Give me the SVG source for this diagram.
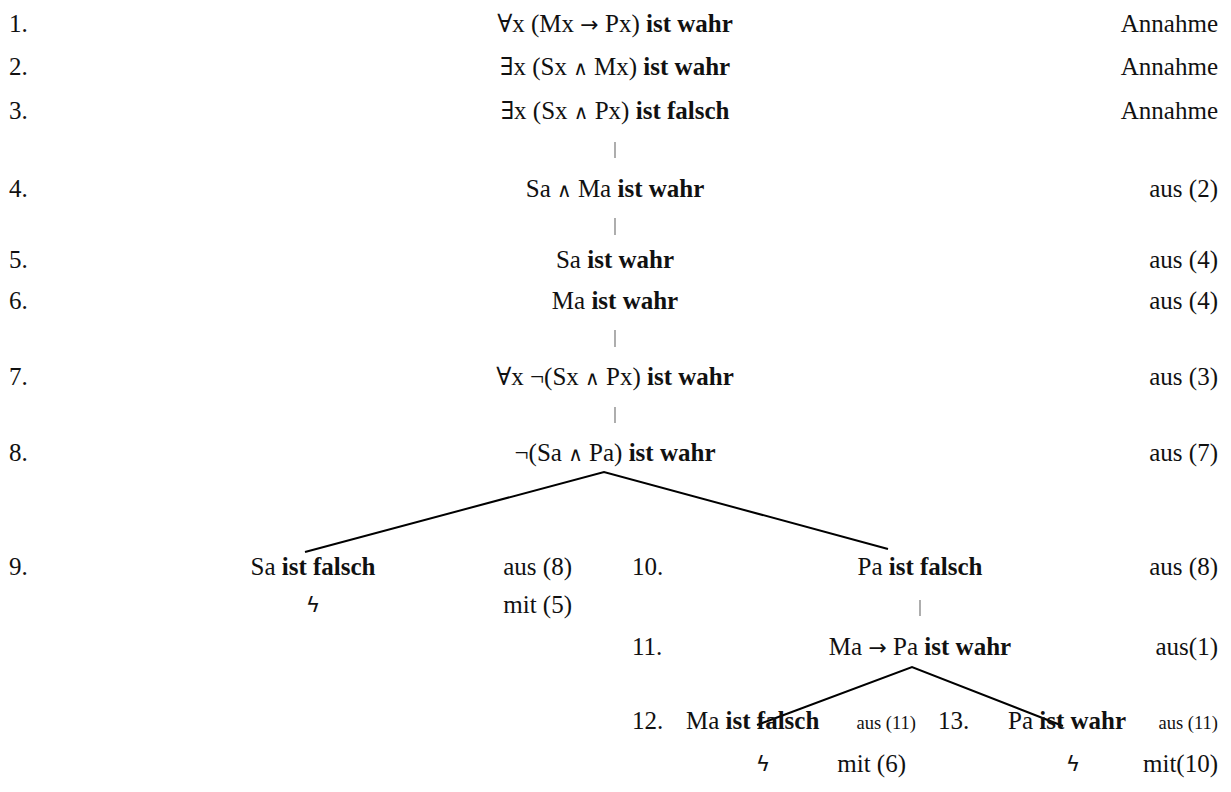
<svg xmlns="http://www.w3.org/2000/svg" width="1231" height="792" viewBox="0 0 1231 792">
<style>
text{font-family:"Liberation Serif","DejaVu Serif",serif;font-size:25px;fill:#111}
.b{font-weight:bold}
.c{text-anchor:middle}
.r{text-anchor:end}
.s{font-size:18.5px}
.a{font-family:"DejaVu Sans",sans-serif;font-size:22px}
.w{font-family:"DejaVu Sans",sans-serif;font-size:20px}
.z{font-family:"DejaVu Sans",sans-serif;font-size:22px}
.tick{stroke:#777;stroke-width:1.2}
.br{stroke:#000;stroke-width:2;fill:none}
</style>
<rect width="1231" height="792" fill="#fff"/>
<g id="connectors">
<line class="tick" x1="615" y1="142" x2="615" y2="158"/>
<line class="tick" x1="615" y1="218" x2="615" y2="235"/>
<line class="tick" x1="615" y1="330" x2="615" y2="347"/>
<line class="tick" x1="615" y1="407" x2="615" y2="423"/>
<line class="tick" x1="920" y1="600" x2="920" y2="616"/>
<polyline class="br" points="305,552 604,472 888,549"/>
<polyline class="br" points="757,725 912,667 1063,726"/>
</g>
<g id="n1"><text x="9" y="32">1.</text><text class="c" x="615" y="32">∀x (Mx <tspan class="a">→</tspan> Px) <tspan class="b">ist wahr</tspan></text><text class="r" x="1218" y="32">Annahme</text></g>
<g id="n2"><text x="9" y="75">2.</text><text class="c" x="615" y="75">∃x (Sx <tspan class="w">∧</tspan> Mx) <tspan class="b">ist wahr</tspan></text><text class="r" x="1218" y="75">Annahme</text></g>
<g id="n3"><text x="9" y="119">3.</text><text class="c" x="615" y="119">∃x (Sx <tspan class="w">∧</tspan> Px) <tspan class="b">ist falsch</tspan></text><text class="r" x="1218" y="119">Annahme</text></g>
<g id="n4"><text x="9" y="197">4.</text><text class="c" x="615" y="197">Sa <tspan class="w">∧</tspan> Ma <tspan class="b">ist wahr</tspan></text><text class="r" x="1218" y="197">aus (2)</text></g>
<g id="n5"><text x="9" y="268">5.</text><text class="c" x="615" y="268">Sa <tspan class="b">ist wahr</tspan></text><text class="r" x="1218" y="268">aus (4)</text></g>
<g id="n6"><text x="9" y="309">6.</text><text class="c" x="615" y="309">Ma <tspan class="b">ist wahr</tspan></text><text class="r" x="1218" y="309">aus (4)</text></g>
<g id="n7"><text x="9" y="385">7.</text><text class="c" x="615" y="385">∀x ¬(Sx <tspan class="w">∧</tspan> Px) <tspan class="b">ist wahr</tspan></text><text class="r" x="1218" y="385">aus (3)</text></g>
<g id="n8"><text x="9" y="461">8.</text><text class="c" x="615" y="461">¬(Sa <tspan class="w">∧</tspan> Pa) <tspan class="b">ist wahr</tspan></text><text class="r" x="1218" y="461">aus (7)</text></g>
<g id="n9"><text x="9" y="575">9.</text><text class="c" x="313" y="575">Sa <tspan class="b">ist falsch</tspan></text><text class="r" x="572" y="575">aus (8)</text><text class="c z" x="313" y="612">ϟ</text><text class="r" x="572" y="613">mit (5)</text></g>
<g id="n10"><text x="632" y="575">10.</text><text class="c" x="920" y="575">Pa <tspan class="b">ist falsch</tspan></text><text class="r" x="1218" y="575">aus (8)</text></g>
<g id="n11"><text x="632" y="655">11.</text><text class="c" x="920" y="655">Ma <tspan class="a">→</tspan> Pa <tspan class="b">ist wahr</tspan></text><text class="r" x="1218" y="655">aus(1)</text></g>
<g id="n12"><text x="632" y="729">12.</text><text x="686" y="729">Ma <tspan class="b">ist falsch</tspan></text><text class="r s" x="916" y="729">aus (11)</text><text class="c z" x="763" y="771">ϟ</text><text class="r" x="906" y="772">mit (6)</text></g>
<g id="n13"><text x="938" y="729">13.</text><text x="1008" y="729">Pa <tspan class="b">ist wahr</tspan></text><text class="r s" x="1218" y="729">aus (11)</text><text class="c z" x="1073" y="771">ϟ</text><text class="r" x="1218" y="772">mit(10)</text></g>
</svg>
